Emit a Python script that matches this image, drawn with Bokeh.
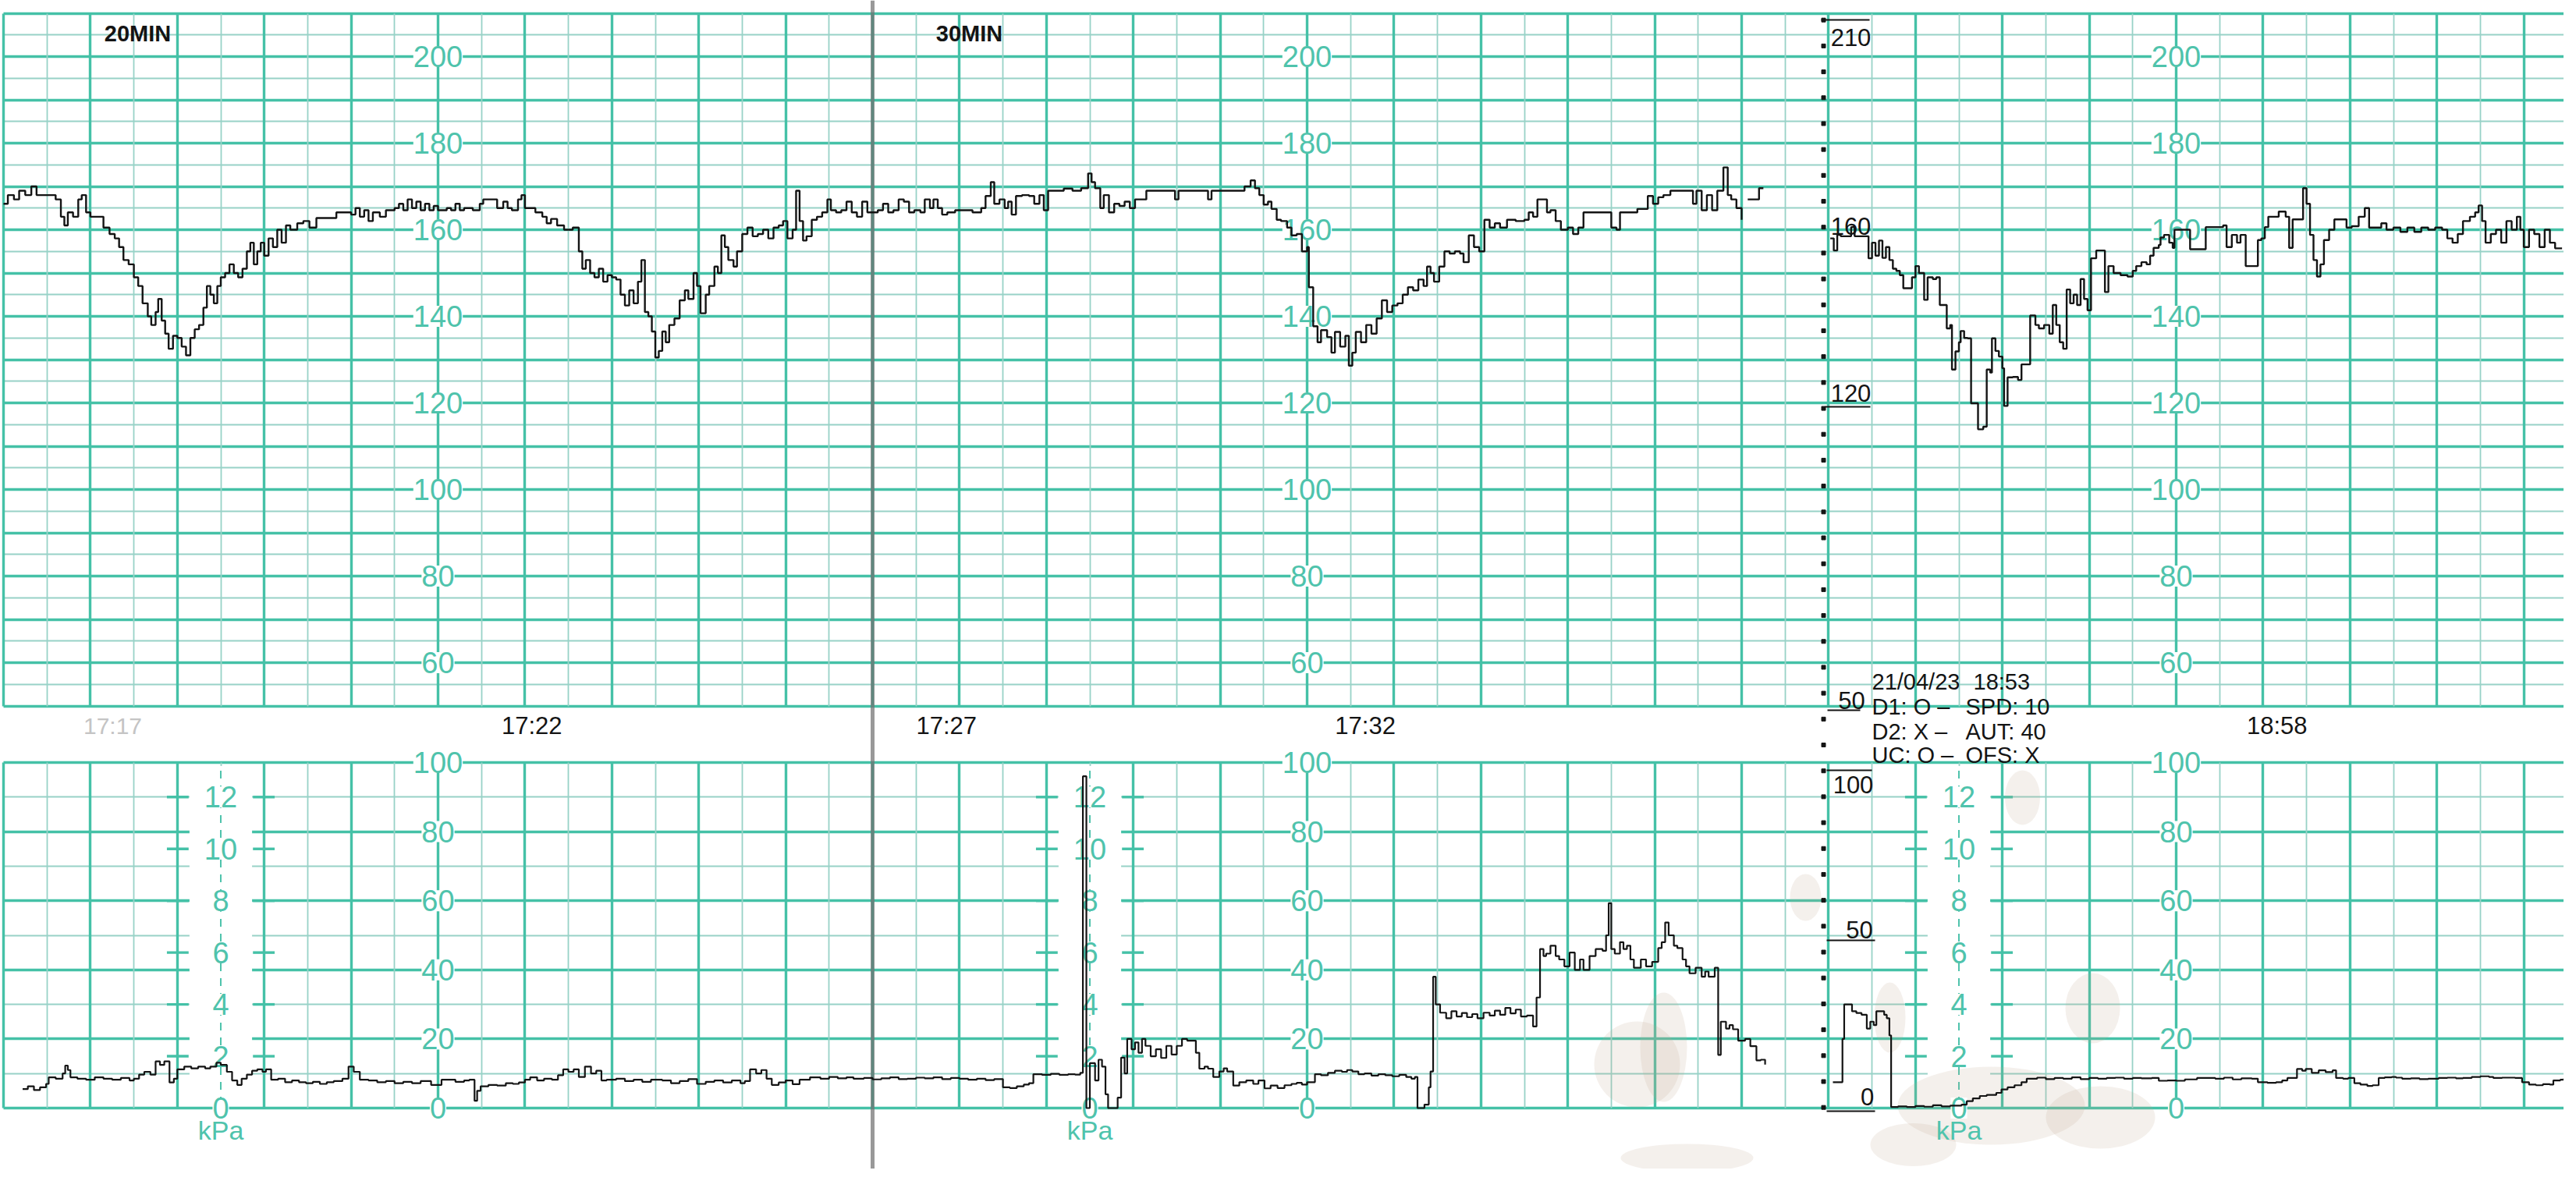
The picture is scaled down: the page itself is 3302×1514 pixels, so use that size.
from bokeh.plotting import figure
from bokeh.models import Range1d, Grid, FixedTicker, LabelSet, ColumnDataSource, Span
from bokeh.core.properties import value
from bokeh.embed import file_html
from bokeh.resources import INLINE

# ---------------- data (x in chart-paper divisions, 1 division = 1 thick grid line) -------------
fhr_a_t = [0.00,0.05,0.12,0.18,0.25,0.32,0.38,0.45,0.52,0.60,
           0.66,0.70,0.74,0.80,0.86,0.90,0.95,1.00,1.15,1.22,
           1.28,1.33,1.38,1.44,1.50,1.55,1.60,1.66,1.70,1.75,
           1.78,1.82,1.86,1.90,1.95,2.00,2.05,2.10,2.15,2.20,
           2.25,2.30,2.34,2.38,2.42,2.46,2.50,2.55,2.60,2.65,
           2.70,2.75,2.80,2.84,2.88,2.92,2.96,3.00,3.05,3.10,
           3.15,3.20,3.25,3.30,3.38,3.45,3.52,3.60,3.70,3.83,
           3.92,4.00,4.05,4.10,4.15,4.20,4.25,4.33,4.40,4.50,
           4.55,4.60,4.65,4.70,4.75,4.80,4.85,4.90,4.95,5.00,
           5.10,5.15,5.20,5.25,5.30,5.40,5.48,5.52,5.60,5.68,
           5.75,5.80,5.85,5.92,5.96,6.00,6.06,6.12,6.20,6.25,
           6.30,6.37,6.45,6.55,6.62,6.66,6.70,6.75,6.80,6.85,
           6.90,6.95,7.00,7.05,7.10,7.15,7.20,7.25,7.30,7.34,
           7.38,7.42,7.46,7.50,7.54,7.58,7.62,7.66,7.72,7.78,
           7.84,7.88,7.94,7.98,8.02,8.08,8.12,8.18,8.22,8.26,
           8.30,8.34,8.40,8.44,8.50,8.56,8.62,8.68,8.74,8.80,
           8.86,8.92,8.97,9.02,9.08,9.12,9.16,9.20,9.24,9.30,
           9.36,9.42,9.48,9.52,9.58,9.64,9.70,9.76,9.82,9.88,
           9.94,10.00,10.06,10.12,10.18,10.24,10.30,10.36,10.42,10.48,
           10.55,10.60,10.66,10.70,10.75,10.80,10.86,10.95,11.05,11.15,
           11.25,11.30,11.36,11.40,11.46,11.52,11.56,11.60,11.65,11.72,
           11.80,11.86,11.92,11.97,12.02,12.10,12.20,12.30,12.40,12.46,
           12.48,12.52,12.56,12.62,12.66,12.72,12.78,12.84,12.90,12.96,
           13.02,13.10,13.15,13.25,13.40,13.48,13.52,13.70,13.82,13.86,
           13.90,14.00,14.10,14.20,14.28,14.35,14.40,14.45,14.50,14.55,
           14.59,14.65,14.70,14.77,14.82,14.88,14.94,15.00,15.02,15.07,
           15.12,15.16,15.23,15.28,15.32,15.38,15.44,15.48,15.52,15.56,
           15.62,15.68,15.74,15.80,15.86,15.92,15.98,16.04,16.10,16.16,
           16.22,16.28,16.34,16.38,16.42,16.46,16.52,16.58,16.64,16.70,
           16.76,16.80,16.86,16.92,16.98,17.04,17.10,17.16,17.22,17.30,
           17.40,17.50,17.55,17.60,17.65,17.72,17.76,17.80,17.86,17.92,
           18.00,18.06,18.12,18.18,18.25,18.35,18.46,18.50,18.56,18.60,
           18.70,18.80,18.88,18.92,18.98,19.04,19.10,19.18,19.30,19.38,
           19.44,19.48,19.54,19.60,19.66,19.72,19.79,19.84,19.88,19.94,20.00]
fhr_a_bpm = [166,168,167,169,168,170,168,168,168,167,
             163,161,164,163,167,168,164,163,160.5,159,
             158,156,153,152,149,147,143,140,138,141,
             144,139,136,132.5,135.5,135,133,131,135,137,
             138,142,147,145,143,147,149,150,152,150,
             149,151,155,157,152,155,157,154,158,156,
             160,157,161,160,161.5,162,160.5,162.7,162.7,164,
             164,163.5,165,163,164.5,162,164,163,164.5,165,
             166,164.5,167,165,166.5,164.5,166,164.5,165.5,164.5,
             165,164.5,166,164.5,165,164.5,166,167,167,165,
             166.5,165,164.5,167,168,165,165,164,163,161.5,
             162.5,161,160,160.5,155,151,153,150,149,151,
             148,149.5,149,148.5,145,142.5,146,143,148,153,
             141,140,136.5,130.5,132,136.5,134,138,139.5,143.7,
             146,144,150,147,140.7,145,147,151.5,150,158.7,
             156,153,151.5,155,159,160.5,158.5,159,160,158,
             160.5,161,162,158,160,169,162,157.5,158.5,162.3,
             163,164,167,164.5,164,164.5,166.5,164,163,166.5,
             164,164,164.5,166,164,164.5,167,166.5,164,164.5,
             164,167,165,167,165,163.5,164,164.5,164.5,164,
             165,167.8,171,166,167,165,166.5,163.5,167.8,168,
             167.8,166,168,164.5,169,169,169.5,169,169.6,169.6,
             173,171,169.6,165,168,164,166,165.5,166.5,165,
             167,167,169,169,169,167,169,169,169,167,
             169,169,169,169,170,171.4,169.6,168,165.8,166.5,
             164.8,162.3,162,160.5,158.7,159,155,156,146.7,137.7,
             134,136.8,135.2,131.6,136.4,133,135.5,128.6,131.6,136.4,
             134,138,136,139.5,143.7,141,142.5,143,145,146.7,
             146,148.5,147,151.5,150,148,151.5,155,154.5,155,
             154.5,152.5,158.7,156,155,162.3,160.5,161.5,160.5,162.3,
             162,162.3,164,163,167,167,164,164.5,162,160,
             160.5,159,160.5,164,164,164,164,160.5,160,164,
             164,164.8,164.8,167.8,166,167.5,168,169,169,169,
             166,169,164.5,168,164.5,169,174.4,168,167,165,162.3]

fhr_b_t = [20.07, 20.15, 20.20, 20.25]
fhr_b_bpm = [167, 167, 169.6, 169.6]

fhr_c_t = [21.02,21.06,21.10,21.14,21.20,21.26,21.30,21.36,21.42,21.46,
           21.50,21.54,21.58,21.62,21.66,21.70,21.74,21.78,21.82,21.86,
           21.92,21.96,22.00,22.04,22.10,22.14,22.20,22.24,22.28,22.34,
           22.36,22.40,22.42,22.46,22.50,22.52,22.56,22.60,22.64,22.70,
           22.72,22.78,22.82,22.86,22.88,22.92,22.96,23.00,23.02,23.06,
           23.12,23.18,23.22,23.30,23.32,23.38,23.42,23.48,23.54,23.58,
           23.62,23.66,23.70,23.74,23.78,23.82,23.86,23.90,23.94,23.98,
           24.02,24.08,24.14,24.18,24.22,24.28,24.36,24.44,24.50,24.54,
           24.60,24.66,24.70,24.74,24.80,24.82,24.86,24.92,24.96,24.98,
           25.05,25.14,25.16,25.22,25.30,25.34,25.42,25.50,25.54,25.58,
           25.64,25.70,25.74,25.80,25.86,25.94,25.98,26.02,26.06,26.12,
           26.18,26.22,26.26,26.30,26.34,26.42,26.46,26.50,26.54,26.58,
           26.62,26.66,26.70,26.76,26.82,26.90,26.96,27.02,27.10,27.17,
           27.22,27.30,27.36,27.42,27.50,27.58,27.66,27.74,27.82,27.90,
           27.98,28.06,28.12,28.18,28.24,28.30,28.38,28.44,28.48,28.52,
           28.56,28.62,28.68,28.74,28.80,28.86,28.92,28.96,29.00,29.06,
           29.12,29.18,29.24,29.30,29.36,29.44]
fhr_c_bpm = [158,155.2,158.8,158.5,158.5,160.6,158.5,158.5,158.5,153.4,
             157,154,157.5,153.5,156,153,151,150.5,149.5,146.5,
             146.5,149,151.6,150,143.8,149,148.6,149,142.6,142.6,
             137.2,138,127.7,131.9,134,136.6,135,134.9,119.9,119.9,
             113.9,114.5,127.7,127,134.9,132,130.7,128,119.3,125.9,
             126,125.3,128.9,128.9,140.2,138,137.2,138,136,142.6,
             138,134,132.5,146.2,143,145,142.6,148.6,144,141.4,
             153.4,155.2,155.2,145.6,151.6,150,149.5,149.2,150.5,151.6,
             152.5,152,154,155.8,156.5,158.2,158.8,157,155.8,160,
             160,160,155.5,155.5,155.5,160.6,160.6,160.6,161,156,
             158.8,157,158.8,151.6,151.6,157.6,158,160.6,163,163,
             164.2,164.2,163,155.8,162.4,162.4,169.6,166,158.8,153,
             149.2,152,157.6,160,162.4,162.4,160.5,160.8,163,165,
             160.5,160.5,161.5,160,160.5,159.5,160.5,159.5,160.5,160,
             160.5,160,158,157,159,162,163,164,165.6,162,
             157,159,160,157,162,160,163,160,156,160,
             159,156,160,157,155.7,155.7]

uc_a_t = [0.22,0.28,0.35,0.42,0.49,0.52,0.60,0.68,0.71,0.74,
          0.77,0.85,0.95,1.05,1.15,1.25,1.35,1.45,1.50,1.56,
          1.62,1.69,1.75,1.80,1.85,1.91,1.96,2.00,2.08,2.16,
          2.24,2.32,2.38,2.45,2.50,2.57,2.63,2.69,2.74,2.80,
          2.86,2.92,2.98,3.02,3.08,3.16,3.24,3.32,3.40,3.48,
          3.56,3.64,3.72,3.80,3.90,3.97,4.03,4.10,4.20,4.30,
          4.40,4.50,4.60,4.70,4.80,4.92,5.04,5.12,5.20,5.30,
          5.36,5.42,5.45,5.49,5.58,5.68,5.78,5.86,5.93,6.00,
          6.06,6.14,6.22,6.31,6.38,6.44,6.50,6.56,6.62,6.69,
          6.76,6.82,6.88,6.94,7.05,7.15,7.25,7.35,7.45,7.58,
          7.68,7.78,7.88,7.98,8.08,8.18,8.28,8.38,8.48,8.53,
          8.59,8.66,8.72,8.78,8.84,8.92,9.00,9.08,9.16,9.28,
          9.40,9.50,9.60,9.70,9.78,9.90,10.00,10.10,10.20,10.30,
          10.40,10.50,10.60,10.70,10.80,10.90,11.00,11.10,11.20,11.30,
          11.40,11.50,11.58,11.66,11.74,11.80,11.85,11.95,12.05,12.15,
          12.25,12.33,12.39,12.42,12.46,12.50,12.56,12.60,12.64,12.68,
          12.71,12.80,12.82,12.86,12.90,12.93,12.98,13.02,13.06,13.10,
          13.14,13.20,13.26,13.32,13.38,13.44,13.50,13.56,13.62,13.68,
          13.72,13.76,13.82,13.86,13.92,13.99,14.04,14.08,14.15,14.22,
          14.30,14.38,14.44,14.51,14.58,14.66,14.74,14.82,14.88,14.94,
          15.00,15.09,15.16,15.24,15.32,15.40,15.46,15.52,15.59,15.66,
          15.74,15.82,15.90,15.98,16.06,16.14,16.20,16.24,16.27,16.35,
          16.40,16.42,16.45,16.48,16.53,16.60,16.66,16.72,16.78,16.84,
          16.90,16.96,17.03,17.10,17.16,17.22,17.28,17.34,17.40,17.46,
          17.53,17.60,17.64,17.68,17.72,17.75,17.80,17.86,17.90,17.96,
          18.02,18.08,18.14,18.18,18.25,18.32,18.40,18.44,18.47,18.50,
          18.54,18.60,18.64,18.68,18.72,18.76,18.84,18.90,18.97,19.04,
          19.08,19.12,19.16,19.22,19.26,19.32,19.36,19.40,19.47,19.54,
          19.58,19.62,19.69,19.73,19.76,19.82,19.86,19.90,19.96,20.04,
          20.10,20.17,20.22,20.27]
uc_a_val = [5.5,6.3,5.2,6,7,8.9,8.5,10,12.3,11,
            8.9,8.5,8.2,8.9,8.5,8.2,8.7,8,8.5,9.7,
            10.5,9.7,13.5,12.5,13.5,7.4,8.5,11.2,12,11.5,
            12,11.5,12,13.1,12.5,10.5,8,6.7,8.5,9.7,
            10.8,11.2,10.5,11.2,8.2,8.5,7.5,8,7.5,7.2,
            7.6,7,7.5,7.8,8.5,12,10.5,8.2,8,7.5,
            7.8,7.2,7.6,7.2,7.8,6.7,8.2,8.2,7.6,8,
            8.2,2.1,5,6.3,6.7,6.5,7.2,7,7.4,8.2,
            8.9,8,8.5,8.2,9.5,11.2,10.5,11.2,9,12,
            10,10.8,8,8.2,8.5,7.8,8.2,7.6,8.2,8,
            7.2,7.8,8.4,7,7.6,8,7.4,8,7.2,7.8,
            11.2,10,11,8.5,6.7,7.4,8,6.9,8.2,8.9,
            8.5,9,8.6,8.9,8.5,8.7,8.3,8.6,8.9,8.4,
            8.5,8.8,8.6,8.9,8.4,8.7,8.5,8.2,8.5,8.1,
            8.4,6,5.8,6.3,6.8,7.2,9.8,9.6,9.9,9.6,
            9.8,9.7,10.2,96,0,13,8,14,12,4,
            0,0,3,14.6,10,20,17,19,16,20,
            18,15,17,14.5,18,15.5,18,20,19.5,19.5,
            16,11.4,12,11.4,9,10.6,11.5,10.6,6.5,7.5,
            8,7,8,5.7,6.5,5.8,6.6,7,7.3,6.8,
            7.5,9.8,9.5,10.2,10.8,10.5,11,10.6,9.8,10,
            9.4,9.8,9.5,9.2,9.6,9,8.5,9,0,1,
            6,10.6,38,30,27.6,26,28,26.5,27.5,26.3,
            27.2,26,27.6,26.8,28.2,27,29,27.4,28.5,26.5,
            26.8,23.6,32,46,44,44.7,47,44,43,41,
            45,40,43,40,44,46,45.5,50,59.3,46,
            44.7,48,46,47,43,40.6,43,41,42.3,46.3,
            48,53.7,50,47,46.3,43,41,39,40.6,38,
            39.5,38,40.6,15.4,25,23,24,22.8,19.5,20,
            17.9,13.8,14,12.6]

uc_c_t = [21.05,21.12,21.16,21.18,21.24,21.27,21.32,21.38,21.44,21.48,
          21.52,21.55,21.60,21.64,21.67,21.70,21.72,21.80,21.90,22.00,
          22.10,22.20,22.30,22.40,22.53,22.59,22.66,22.74,22.82,22.93,
          22.99,23.06,23.14,23.22,23.28,23.40,23.50,23.60,23.70,23.80,
          23.90,24.00,24.10,24.20,24.30,24.40,24.50,24.60,24.72,24.80,
          24.90,25.00,25.10,25.24,25.38,25.45,25.55,25.65,25.75,25.87,
          25.94,26.05,26.15,26.22,26.28,26.35,26.39,26.45,26.49,26.56,
          26.64,26.72,26.80,26.84,26.92,26.98,27.05,27.12,27.20,27.26,
          27.33,27.40,27.48,27.53,27.60,27.70,27.80,27.90,27.95,28.02,
          28.12,28.22,28.30,28.37,28.40,28.50,28.60,28.65,28.75,28.90,
          28.98,29.06,29.14,29.22,29.30,29.34,29.42,29.46]
uc_c_val = [7.5,7.5,20,30,30,28,27.5,27,23,25,
            24,28,28,27,26,21,0.3,0.5,0.3,0.6,
            0.4,0.8,0.5,0.7,1,2,2.8,3.5,3.8,4.4,
            5.4,6,6.6,7.5,8.5,8.8,8.4,8.7,8.5,8.9,
            8.4,8.7,8.5,8.7,8.8,8.5,8.7,8.6,8.7,7.9,
            8,7.9,8.3,8.7,8.7,8.5,8.8,8.3,8.6,8.5,
            7.5,7.3,7.5,8,8.7,8.7,11.3,10.8,11.3,10.2,
            10.9,10.4,10.9,8.7,8.5,8.7,7.2,6.8,6.4,6.6,
            8.7,8.9,9,8.8,8.5,8.6,8.4,8.5,8.5,8.7,
            8.8,8.6,8.7,8.7,9,9.2,9,8.7,8.8,8.7,
            7.5,6.8,6.6,6.9,6.8,8,8.2,8.5]

# scale labels printed on the paper
fhr_scale_labels = [200, 180, 160, 140, 120, 100, 80, 60]
uc_scale_labels = [100, 80, 60, 40, 20, 0]
kpa_labels = [12, 10, 8, 6, 4, 2, 0]
label_columns = [5, 15, 25]
kpa_columns = [2.5, 12.5, 22.5]
time_labels = ["17:22", "17:27", "17:32", "18:58"]
time_label_x = [6.08, 10.85, 15.67, 26.16]
header_left = ["21/04/23", "D1: O  \u2013", "D2: X  \u2013", "UC: O  \u2013"]
header_right = ["18:53", "SPD: 10", "AUT: 40", "OFS:  X"]

# ---------------- layout constants (page pixels) ----------------
W, H = 3286, 1498
PAGE_L, PAGE_T = 8, 8
PX_U, U0 = 111.4, 12.0          # x: page px per division, page x of division 0
BPM_PX, Y210 = 5.55, 24.5       # FHR: px per bpm, page y of 210 bpm
UC_PX, Y_UC0 = 4.43, 1428.0     # UC: px per unit, page y of 0

def ux(px): return (px - U0) / PX_U
def fy(py): return 210 - (py - Y210) / BPM_PX
def uy(py): return (Y_UC0 - py) / UC_PX

X_END = ux(PAGE_L + W)
THICK = "#45c1a7"
THIN = "#98d2c7"
TEAL_TXT = "#4fc3ac"
INK = "#141414"
PRINT_FONT = "Liberation Sans"

p = figure(width=W, height=H, output_backend="svg", toolbar_location=None,
           x_range=Range1d(ux(PAGE_L), X_END),
           y_range=Range1d(fy(PAGE_T + H), fy(PAGE_T)),
           x_axis_type=None, y_axis_type=None, min_border=0)
p.outline_line_color = None
p.background_fill_color = "white"
p.border_fill_color = "white"
p.extra_y_ranges = {"uc": Range1d(uy(PAGE_T + H), uy(PAGE_T))}

major_u = list(range(0, 30))
minor_u = [k + 0.5 for k in range(0, 29)]

def add_grid(dim, ticks, minor, rng, bounds=None, cross=None):
    g = Grid(dimension=dim, ticker=FixedTicker(ticks=ticks, minor_ticks=minor),
             y_range_name=rng, grid_line_color=THICK, grid_line_width=3.4,
             minor_grid_line_color=THIN, minor_grid_line_width=1.8)
    if bounds is not None:
        g.bounds = bounds
    if cross is not None:
        g.cross_bounds = cross
    p.add_layout(g)

# FHR grid
add_grid(1, list(range(50, 211, 10)), list(range(55, 210, 10)), "default",
         bounds=(50, 210), cross=(0, X_END))
add_grid(0, major_u, minor_u, "default", cross=(50, 210))
# UC grid
add_grid(1, list(range(0, 101, 20)), list(range(10, 100, 20)), "uc",
         bounds=(0, 100), cross=(0, X_END))
add_grid(0, major_u, minor_u, "uc", cross=(0, 100))

# kPa columns: white band, dashed centre line, ticks
half_band = 0.36
p.quad(left=[c - half_band for c in kpa_columns], right=[c + half_band for c in kpa_columns],
       bottom=[1] * 3, top=[99] * 3, fill_color="white", line_color=None, y_range_name="uc")
p.segment(x0=kpa_columns, x1=kpa_columns, y0=[1] * 3, y1=[99] * 3, line_color=TEAL_TXT,
          line_width=2, line_dash="10 9", y_range_name="uc")
tick_levels = [k * 7.5 for k in kpa_labels if k > 0]
tx0, tx1, ty = [], [], []
for c in kpa_columns:
    for lv in tick_levels:
        tx0 += [c - 0.62, c + 0.37]
        tx1 += [c - 0.37, c + 0.62]
        ty += [lv, lv]
p.segment(x0=tx0, x1=tx1, y0=ty, y1=ty, line_color=THICK, line_width=3.4, y_range_name="uc")

# paper stains (scan artefacts)
stain_px = [(2106, 1372, 110, 110), (2140, 1350, 60, 140), (2170, 1492, 170, 36), (2322, 1158, 40, 60),
            (2430, 1312, 40, 90), (2600, 1030, 45, 70), (2690, 1300, 70, 90), (2560, 1425, 240, 100),
            (2700, 1440, 140, 80), (2460, 1475, 110, 55)]
p.ellipse(x=[ux(s[0]) for s in stain_px], y=[uy(s[1]) for s in stain_px],
          width=[s[2] / PX_U for s in stain_px], height=[s[3] / UC_PX for s in stain_px],
          fill_color="#bba98e", fill_alpha=0.17, line_color=None, y_range_name="uc")

# teal printed scale labels
lab_font = value("Liberation Sans")
fx, fyv, ft = [], [], []
for c in label_columns:
    for v in fhr_scale_labels:
        fx.append(c); fyv.append(v); ft.append(str(v))
p.add_layout(LabelSet(x="x", y="y", text="text", source=ColumnDataSource(dict(x=fx, y=fyv, text=ft)),
                      text_align="center", text_baseline="middle", text_color=TEAL_TXT,
                      text_font=lab_font, text_font_size=value("38px"),
                      background_fill_color="white"))
ux_, uy_, ut = [], [], []
for c in label_columns:
    for v in uc_scale_labels:
        ux_.append(c); uy_.append(v); ut.append(str(v))
for c in kpa_columns:
    for k in kpa_labels:
        ux_.append(c); uy_.append(k * 7.5); ut.append(str(k))
p.add_layout(LabelSet(x="x", y="y", text="text", source=ColumnDataSource(dict(x=ux_, y=uy_, text=ut)),
                      text_align="center", text_baseline="middle", text_color=TEAL_TXT,
                      text_font=lab_font, text_font_size=value("38px"),
                      background_fill_color="white", y_range_name="uc"))
p.text(x=kpa_columns, y=[uy(1456)] * 3, text=["kPa"] * 3, text_align="center", text_baseline="middle",
       text_color=TEAL_TXT, text_font=lab_font, text_font_size=value("34px"), y_range_name="uc")

# page fold
p.add_layout(Span(location=10.0, dimension="height", line_color="#6e6e6e", line_width=5, line_alpha=0.7))

# traces
for t, v in [(fhr_a_t, fhr_a_bpm), (fhr_b_t, fhr_b_bpm), (fhr_c_t, fhr_c_bpm)]:
    p.step(t, v, mode="after", line_color=INK, line_width=2.4, level="overlay")
for t, v in [(uc_a_t, uc_a_val), (uc_c_t, uc_c_val)]:
    p.step(t, v, mode="after", line_color=INK, line_width=2.2, y_range_name="uc", level="overlay")

# printed black texts
def ink_text(xs, ys, texts, size="30px", align="center", color=INK, style="normal"):
    p.text(x=xs, y=ys, text=texts, text_align=align, text_baseline="middle", text_color=color,
           text_font=value(PRINT_FONT), text_font_size=value(size), text_font_style=style,
           level="overlay")

ink_text([ux(184), ux(1250)], [fy(50)] * 2, ["20MIN", "30MIN"], size="29px", style="bold")
ink_text(time_label_x, [fy(938)] * 4, time_labels, size="31px")
ink_text([ux(152)], [fy(938)], ["17:17"], color="#c4c4c4")
hdr_y = [881, 913, 945, 975]
ink_text([ux(2407)] * 4, [fy(v) for v in hdr_y], header_left, size="29px", align="left")
ink_text([ux(2537), ux(2527), ux(2527), ux(2527)], [fy(v) for v in hdr_y], header_right, size="29px", align="left")

# the recorder's own scale at the start of the 18:53 strip
scale_txt = ["210", "160", "120", "50", "100", "50", "0"]
scale_px = [(2380, 55), (2380, 297), (2380, 511), (2381, 905), (2383, 1013), (2391, 1199), (2401, 1413)]
ink_text([ux(a) for a, b in scale_px], [fy(b) for a, b in scale_px], scale_txt, size="31px")
rule_px = [(2342, 2404, 33), (2347, 2405, 529), (2350, 2392, 918), (2349, 2407, 995),
           (2349, 2411, 1213), (2349, 2411, 1432)]
p.segment(x0=[ux(a) for a, b, c in rule_px], x1=[ux(b) for a, b, c in rule_px],
          y0=[fy(c) for a, b, c in rule_px], y1=[fy(c) for a, b, c in rule_px],
          line_color=INK, line_width=2, level="overlay")
dot_py = [33.2 + 33.19 * k for k in range(43)]
p.scatter(x=[ux(2345)] * len(dot_py), y=[fy(v) for v in dot_py], marker="square", size=5,
          color=INK, level="overlay")

open("out.html", "w").write(file_html(p, INLINE))
